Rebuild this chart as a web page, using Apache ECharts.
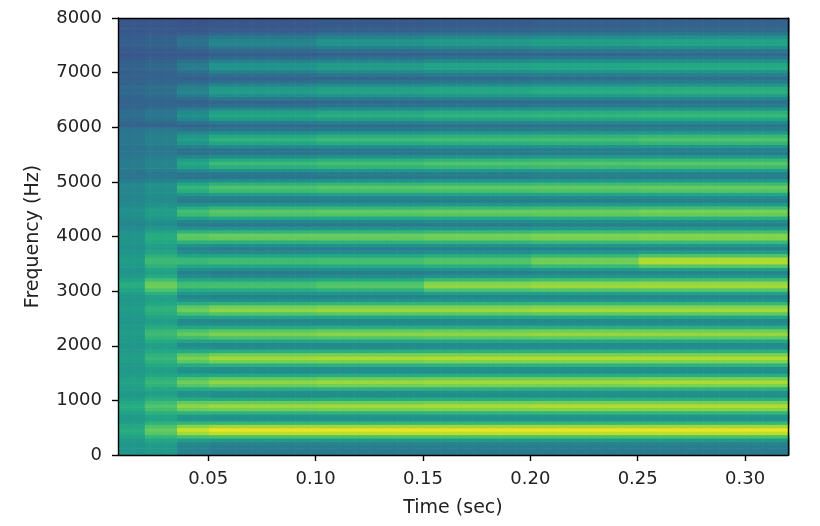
<!DOCTYPE html>
<html>
<head>
<meta charset="utf-8">
<script src="https://cdn.jsdelivr.net/npm/echarts@6/dist/echarts.min.js"></script>
<style>
  html, body { margin: 0; padding: 0; background: #fff; }
  #main { width: 820px; height: 526px; }
</style>
</head>
<body>
<div id="main"></div>
<script>
// spectrogram grid: 2.5 ms columns, 62.5 Hz rows
var tStart = 0.008, tEnd = 0.32, tStep = 0.0025;
var fMax = 8000, fStep = 62.5;

var xTicks = [0.05, 0.10, 0.15, 0.20, 0.25, 0.30];

// harmonic centres (Hz)
var harmonicHz = [460, 900, 1340, 1780, 2225, 2670, 3115, 3560, 4005,
                  4450, 4895, 5340, 5785, 6230, 6675, 7120, 7565];

// time segments (sec) that the levels below were read for
var segEdges = [0.008, 0.02, 0.035, 0.05, 0.10, 0.15, 0.20, 0.25, 0.32];

// band peak level per harmonic and segment (0 = dark purple, 1 = yellow)
var bandLevel = [
  [0.62, 0.76, 0.92, 0.97, 0.97, 0.97, 0.97, 0.97],
  [0.62, 0.72, 0.83, 0.85, 0.86, 0.87, 0.88, 0.88],
  [0.58, 0.66, 0.78, 0.83, 0.85, 0.86, 0.86, 0.87],
  [0.56, 0.66, 0.80, 0.86, 0.87, 0.88, 0.88, 0.88],
  [0.55, 0.68, 0.76, 0.80, 0.82, 0.83, 0.84, 0.84],
  [0.55, 0.64, 0.78, 0.83, 0.85, 0.85, 0.86, 0.86],
  [0.62, 0.78, 0.70, 0.71, 0.74, 0.84, 0.86, 0.87],
  [0.55, 0.68, 0.68, 0.70, 0.71, 0.74, 0.80, 0.90],
  [0.52, 0.62, 0.76, 0.78, 0.78, 0.80, 0.82, 0.83],
  [0.50, 0.56, 0.70, 0.75, 0.76, 0.77, 0.78, 0.80],
  [0.46, 0.50, 0.66, 0.72, 0.74, 0.75, 0.76, 0.77],
  [0.42, 0.46, 0.60, 0.68, 0.70, 0.72, 0.73, 0.74],
  [0.40, 0.44, 0.56, 0.65, 0.68, 0.69, 0.70, 0.72],
  [0.36, 0.40, 0.50, 0.60, 0.63, 0.65, 0.66, 0.67],
  [0.34, 0.37, 0.46, 0.56, 0.59, 0.61, 0.63, 0.64],
  [0.32, 0.34, 0.42, 0.52, 0.56, 0.59, 0.61, 0.62],
  [0.30, 0.32, 0.38, 0.46, 0.52, 0.55, 0.57, 0.59]
];

// level between the bands, per 1000 Hz range (bottom first) and segment
var floorLevel = [
  [0.52, 0.54, 0.44, 0.41, 0.41, 0.41, 0.41, 0.41],
  [0.52, 0.54, 0.43, 0.40, 0.40, 0.40, 0.40, 0.40],
  [0.52, 0.54, 0.41, 0.39, 0.39, 0.39, 0.39, 0.39],
  [0.50, 0.54, 0.40, 0.37, 0.38, 0.38, 0.39, 0.39],
  [0.45, 0.47, 0.36, 0.35, 0.36, 0.36, 0.37, 0.37],
  [0.38, 0.39, 0.33, 0.32, 0.33, 0.34, 0.35, 0.35],
  [0.31, 0.31, 0.29, 0.29, 0.30, 0.31, 0.32, 0.33],
  [0.27, 0.27, 0.26, 0.27, 0.28, 0.29, 0.30, 0.31]
];

var bandWidthHz = 105;
var viridis = ['#440154', '#482475', '#414487', '#355f8d', '#2a788e', '#21918c',
               '#22a884', '#44bf70', '#7ad151', '#bddf26', '#fde725'];

var nT = Math.round((tEnd - tStart) / tStep);
var nF = Math.round(fMax / fStep);
var cells = [];

function segOf(t) {
  for (var s = segEdges.length - 2; s >= 0; s--) {
    if (t >= segEdges[s]) return s;
  }
  return 0;
}

for (var i = 0; i < nT; i++) {
  var t = tStart + (i + 0.5) * tStep;
  var s = segOf(t);
  for (var j = 0; j < nF; j++) {
    var f = (j + 0.5) * fStep;
    var base = floorLevel[Math.min(7, Math.floor(f / 1000))][s];
    var v = base;
    for (var h = 0; h < harmonicHz.length; h++) {
      var d = f - harmonicHz[h];
      if (Math.abs(d) > 340) continue;
      var k = Math.exp(-d * d / (2 * bandWidthHz * bandWidthHz));
      v = Math.max(v, base + (bandLevel[h][s] - base) * k);
    }
    cells.push([t, f, v]);
  }
}

function renderCell(params, api) {
  var t = api.value(0), f = api.value(1);
  var p0 = api.coord([t - tStep / 2, f + fStep / 2]);
  var p1 = api.coord([t + tStep / 2, f - fStep / 2]);
  return {
    type: 'rect',
    shape: { x: p0[0], y: p0[1], width: p1[0] - p0[0] + 0.6, height: p1[1] - p0[1] + 0.6 },
    style: { fill: api.visual('color') }
  };
}

var chart = echarts.init(document.getElementById('main'));
var txt = { color: '#222', fontFamily: 'DejaVu Sans', fontSize: 18 };
var nameTxt = { color: '#222', fontFamily: 'DejaVu Sans', fontSize: 19 };
var line = { show: true, onZero: false, lineStyle: { color: '#000', width: 1.4 } };
var tick = { show: true, length: 6, lineStyle: { color: '#000', width: 1.4 } };

chart.setOption({
  animation: false,
  grid: { left: 118, right: 32, top: 18, bottom: 71 },
  visualMap: {
    show: false, type: 'continuous', min: 0, max: 1, dimension: 2,
    seriesIndex: 0, inRange: { color: viridis }
  },
  xAxis: [
    {
      type: 'value', position: 'bottom', min: tStart, max: tEnd, z: 10,
      axisLine: line, axisTick: Object.assign({ customValues: xTicks }, tick),
      splitLine: { show: false },
      axisLabel: Object.assign({
        customValues: xTicks, margin: 15,
        formatter: function (v) { return v.toFixed(2); }
      }, txt),
      name: 'Time (sec)', nameLocation: 'middle', nameGap: 44, nameTextStyle: nameTxt
    },
    {
      type: 'value', position: 'top', min: tStart, max: tEnd, z: 10,
      axisLine: line, axisTick: { show: false }, axisLabel: { show: false },
      splitLine: { show: false }
    }
  ],
  yAxis: [
    {
      type: 'value', position: 'left', min: 0, max: fMax, interval: 1000, z: 10,
      axisLine: line, axisTick: tick, splitLine: { show: false },
      axisLabel: Object.assign({
        margin: 16, formatter: function (v) { return String(v); }
      }, txt),
      name: 'Frequency (Hz)', nameLocation: 'middle', nameGap: 75, nameTextStyle: nameTxt
    },
    {
      type: 'value', position: 'right', min: 0, max: fMax, z: 10,
      axisLine: line, axisTick: { show: false }, axisLabel: { show: false },
      splitLine: { show: false }
    }
  ],
  series: [{
    type: 'custom', xAxisIndex: 0, yAxisIndex: 0, clip: true,
    encode: { x: 0, y: 1 }, renderItem: renderCell,
    data: cells, silent: true
  }]
});
</script>
</body>
</html>
